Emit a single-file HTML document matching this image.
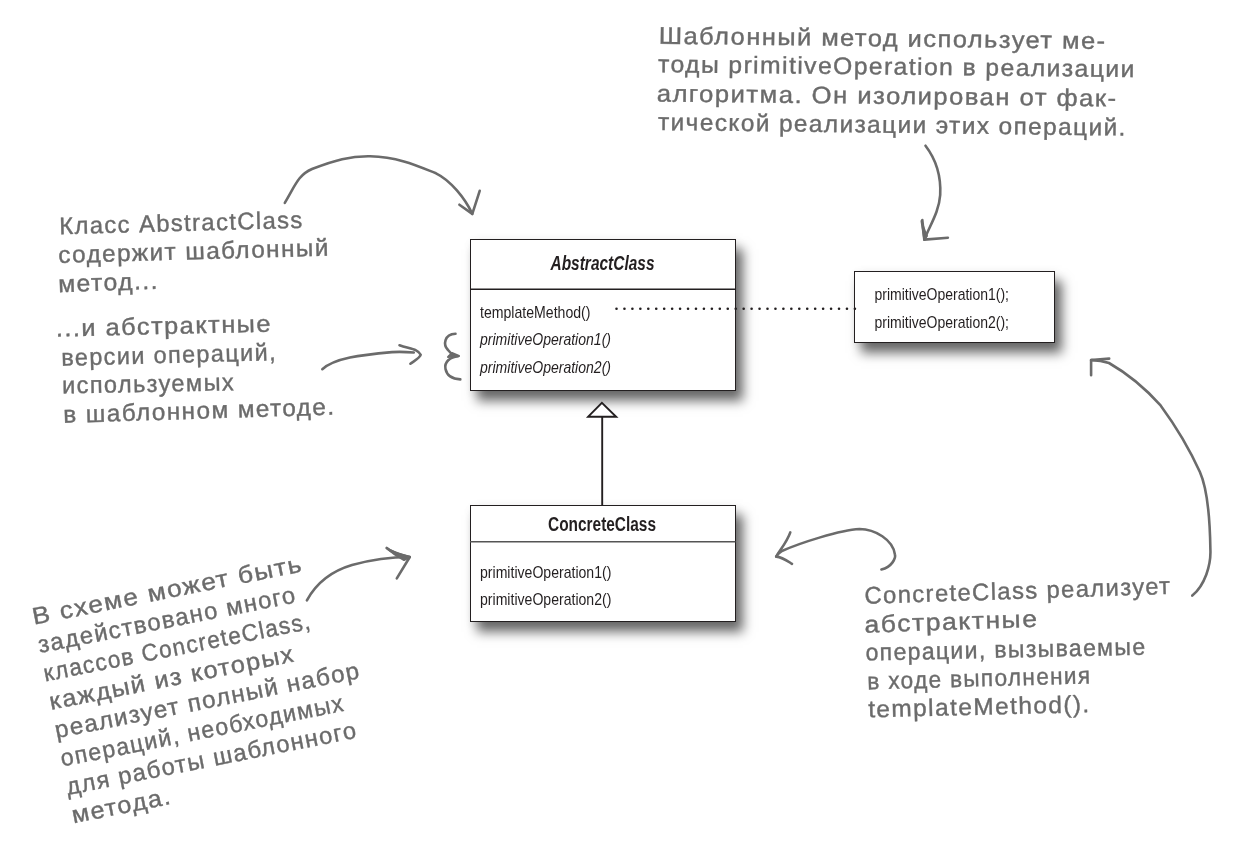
<!DOCTYPE html>
<html><head><meta charset="utf-8">
<style>
html,body{margin:0;padding:0;background:#fff;font-family:"Liberation Sans",sans-serif;width:1245px;height:861px;overflow:hidden}
.box{position:absolute;background:#fff;border:1.5px solid #231f20;box-sizing:border-box;box-shadow:7px 10px 11px rgba(0,0,0,0.58),2px 2px 9px rgba(0,0,0,0.07)}
svg{position:absolute;left:0;top:0;will-change:transform}
</style></head><body>
<div class="box" style="left:469.5px;top:238.5px;width:266.5px;height:152px"></div>
<div class="box" style="left:469.5px;top:504.5px;width:266.5px;height:117.5px"></div>
<div class="box" style="left:853.8px;top:270.5px;width:201.5px;height:72px"></div>
<svg width="1245" height="861" viewBox="0 0 1245 861">
<g stroke="#231f20" stroke-width="1.5" fill="none">
<line x1="470" y1="289.3" x2="735.5" y2="289.3"/>
<line x1="470" y1="541.8" x2="735.5" y2="541.8" stroke="#555"/>
<line x1="602.2" y1="416.5" x2="602.2" y2="505" stroke-width="1.9"/>
<path d="M588.2,416.7 L601.9,402.8 L616.2,416.7 Z" fill="#fff" stroke-width="1.9"/>
</g>
<line x1="616.5" y1="308.7" x2="855" y2="308.7" stroke="#231f20" stroke-width="2.6" stroke-dasharray="0.01 7.937" stroke-linecap="round"/>
<g font-family="'Liberation Sans', sans-serif" fill="#231f20">
<text x="550.5" y="269.8" font-size="19.3" font-weight="bold" font-style="italic" textLength="104" lengthAdjust="spacingAndGlyphs">AbstractClass</text>
<text x="480" y="317.7" font-size="17" textLength="110.5" lengthAdjust="spacingAndGlyphs">templateMethod()</text>
<text x="480" y="345.2" font-size="17" font-style="italic" textLength="131" lengthAdjust="spacingAndGlyphs">primitiveOperation1()</text>
<text x="480" y="373" font-size="17" font-style="italic" textLength="131" lengthAdjust="spacingAndGlyphs">primitiveOperation2()</text>
<text x="548" y="531.4" font-size="19.5" font-weight="bold" textLength="108" lengthAdjust="spacingAndGlyphs">ConcreteClass</text>
<text x="480" y="577.6" font-size="17" textLength="131.4" lengthAdjust="spacingAndGlyphs">primitiveOperation1()</text>
<text x="480" y="605.4" font-size="17" textLength="131.4" lengthAdjust="spacingAndGlyphs">primitiveOperation2()</text>
<text x="874.5" y="299.5" font-size="17" textLength="134.5" lengthAdjust="spacingAndGlyphs">primitiveOperation1();</text>
<text x="874.5" y="327.7" font-size="17" textLength="134.5" lengthAdjust="spacingAndGlyphs">primitiveOperation2();</text>
</g>
<g stroke="#6b6b6b" stroke-width="2.6" fill="none" stroke-linecap="round" stroke-linejoin="round">

<path d="M284.8,202.8 C295,186 298,175 312,169 C335,160 350,156 370,156.3 C400,157 420,167 436,173.3 C450,180 465,198 472.3,213.9"/>
<path d="M459.4,204.7 L472.3,213.9 L479.7,190.8"/>
<path d="M925.5,145.7 C938,162 941,180 940.2,195 C939,212 930,225 924.3,239.6"/>
<path d="M922.3,220 L924.3,239.6 L947.9,237.7"/>
<path d="M322.3,369.2 C335,358 360,355 392,352.1 C400,351.5 408,352 413.8,352.5"/>
<path d="M399.5,345.3 C410,349 418,349 420.7,354.8 C420,358 414,361 410.4,363.7"/>
<path d="M455.5,333.7 C444,334 443,345 448,350 C452,355 455,356 458.2,356.2 C450,357 444,362 445.5,369 C447,376 452,379 460.3,379.4"/>
<path d="M306.9,600.3 C318,580 335,570 352,565 C370,560 390,557 409.8,557"/>
<path d="M386.7,548 C392,553 400,555 409.8,557 L396.8,578.4"/>
<path d="M881.4,569.5 C892,567 896,558 894.9,554.4 C893,540 875,529 859.5,529 C840,530 800,543 781.9,551 C779,553 777,555 776.2,556.6"/>
<path d="M790.3,532.4 C787,542 780,550 776.2,556.6 C782,557 786,560 792,563.9"/>
<path d="M1192.3,595.6 C1205,585 1211,565 1210.4,550 C1210,520 1208,490 1199.8,471.8 C1190,450 1175,425 1160.6,405.4 C1145,388 1130,375 1109,363 C1100,360 1095,360 1091.1,360.1"/>
<path d="M1109.2,358.6 L1091.1,360.1 L1091.1,375.2"/>
<path d="M924.3,239.6 L921.5,221 C923,226 925,232 927,236 Z" fill="#6b6b6b" stroke-width="2"/>
<path d="M409.8,557 C400,554 392,552 386.7,548 C392,553 398,557 404,560 Z" fill="#6b6b6b" stroke-width="2"/>
<path d="M448,357 L459,356 L452,353 Z" fill="#6b6b6b" stroke-width="2"/>

</g>
<g font-family="'Liberation Sans', sans-serif" font-size="24" letter-spacing="1.4" fill="#6b6b6b" stroke="#6b6b6b" stroke-width="0.4">
<text transform="translate(659.7,43.7) rotate(0.68)" x="-1" textLength="447.8" lengthAdjust="spacingAndGlyphs">Шаблонный метод использует ме-</text>
<text transform="translate(659.0,72.2) rotate(0.59)" x="-1" textLength="477.7" lengthAdjust="spacingAndGlyphs">тоды primitiveOperation в реализации</text>
<text transform="translate(657.7,101.5) rotate(0.61)" x="-1" textLength="460.9" lengthAdjust="spacingAndGlyphs">алгоритма. Он изолирован от фак-</text>
<text transform="translate(659.0,130.0) rotate(0.69)" x="-1" textLength="468.7" lengthAdjust="spacingAndGlyphs">тической реализации этих операций.</text>
<text transform="translate(60.5,234.2) rotate(-1.49)" x="-1" textLength="244.4" lengthAdjust="spacingAndGlyphs">Класс AbstractClass</text>
<text transform="translate(59.4,262.9) rotate(-1.53)" x="-1" textLength="271.6" lengthAdjust="spacingAndGlyphs">содержит шаблонный</text>
<text transform="translate(59.4,292.1) rotate(-1.92)" x="-1" textLength="100.7" lengthAdjust="spacingAndGlyphs">метод...</text>
<text transform="translate(57.0,336.5) rotate(-1.31)" x="-1" textLength="216.2" lengthAdjust="spacingAndGlyphs">...и абстрактные</text>
<text transform="translate(62.5,365.7) rotate(-1.48)" x="-1" textLength="215.6" lengthAdjust="spacingAndGlyphs">версии операций,</text>
<text transform="translate(63.2,393.6) rotate(-1.14)" x="-1" textLength="173.0" lengthAdjust="spacingAndGlyphs">используемых</text>
<text transform="translate(64.6,422.8) rotate(-1.74)" x="-1" textLength="272.1" lengthAdjust="spacingAndGlyphs">в шаблонном методе.</text>
<text transform="translate(865.8,603.8) rotate(-1.84)" x="-1" textLength="307.0" lengthAdjust="spacingAndGlyphs">ConcreteClass реализует</text>
<text transform="translate(865.8,632.7) rotate(-2.00)" x="-1" textLength="174.0" lengthAdjust="spacingAndGlyphs">абстрактные</text>
<text transform="translate(866.7,660.6) rotate(-1.23)" x="-1" textLength="280.9" lengthAdjust="spacingAndGlyphs">операции, вызываемые</text>
<text transform="translate(868.5,689.4) rotate(-1.55)" x="-1" textLength="224.2" lengthAdjust="spacingAndGlyphs">в ходе выполнения</text>
<text transform="translate(869.4,717.3) rotate(-1.33)" x="-1" textLength="222.4" lengthAdjust="spacingAndGlyphs">templateMethod().</text>
<text transform="translate(35.0,624.5) rotate(-11.2)" x="-1" textLength="275.2" lengthAdjust="spacingAndGlyphs">В схеме может быть</text>
<text transform="translate(40.7,652.9) rotate(-11.2)" x="-1" textLength="262.9" lengthAdjust="spacingAndGlyphs">задействовано много</text>
<text transform="translate(46.3,681.2) rotate(-11.2)" x="-1" textLength="272.3" lengthAdjust="spacingAndGlyphs">классов ConcreteClass,</text>
<text transform="translate(52.0,709.6) rotate(-11.2)" x="-1" textLength="249.7" lengthAdjust="spacingAndGlyphs">каждый из которых</text>
<text transform="translate(57.6,738.0) rotate(-11.2)" x="-1" textLength="310.9" lengthAdjust="spacingAndGlyphs">реализует полный набор</text>
<text transform="translate(63.3,766.4) rotate(-11.2)" x="-1" textLength="288.9" lengthAdjust="spacingAndGlyphs">операций, необходимых</text>
<text transform="translate(69.0,794.7) rotate(-11.2)" x="-1" textLength="296.1" lengthAdjust="spacingAndGlyphs">для работы шаблонного</text>
<text transform="translate(74.6,823.1) rotate(-11.2)" x="-1" textLength="101.1" lengthAdjust="spacingAndGlyphs">метода.</text>
</g>
</svg>
</body></html>
